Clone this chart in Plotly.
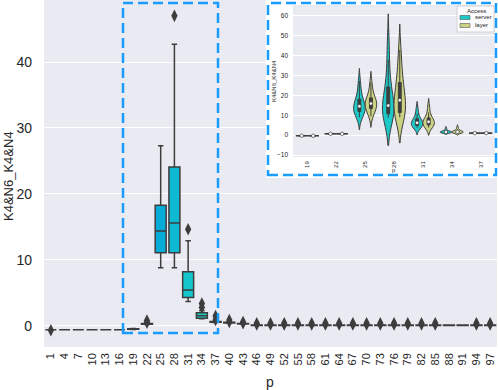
import numpy as np
import plotly.graph_objects as go

# ---------------- main box plot data ----------------
p_labels = ['1', '4', '7', '10', '13', '16', '19', '22', '25', '28', '31', '34', '37',
            '40', '43', '46', '49', '52', '55', '58', '61', '64', '67', '70', '73',
            '76', '79', '82', '85', '88', '91', '94', '97']
lower_whisker = [-0.6, -0.6, -0.6, -0.6, -0.6, -0.6, -0.55, 0.2, 8.8, 8.8, 3.7, 1.1, 0.5,
                 0.4, 0.25, 0.05, 0.05, 0.05, 0.05, 0.05, 0.05, 0.05, 0.05, 0.05, 0.05,
                 0.05, 0.05, 0.05, 0.05, 0.05, 0.05, 0.05, 0.05]
q1_vals = [-0.6, -0.6, -0.6, -0.6, -0.6, -0.6, -0.5, 0.25, 11.1, 11.1, 4.3, 1.15, 0.55,
           0.45, 0.3, 0.07, 0.07, 0.07, 0.07, 0.07, 0.07, 0.07, 0.07, 0.07, 0.07,
           0.07, 0.07, 0.07, 0.07, 0.07, 0.07, 0.07, 0.07]
median_vals = [-0.6, -0.6, -0.6, -0.6, -0.6, -0.6, -0.45, 0.3, 14.4, 15.6, 5.45, 1.55, 0.6,
               0.5, 0.33, 0.1, 0.1, 0.1, 0.1, 0.1, 0.1, 0.1, 0.1, 0.1, 0.1,
               0.1, 0.1, 0.1, 0.1, 0.1, 0.1, 0.1, 0.1]
q3_vals = [-0.6, -0.6, -0.6, -0.6, -0.6, -0.6, -0.42, 0.38, 18.3, 24.1, 8.2, 2.0, 0.68,
           0.55, 0.36, 0.12, 0.12, 0.12, 0.12, 0.12, 0.12, 0.12, 0.12, 0.12, 0.12,
           0.12, 0.12, 0.12, 0.12, 0.12, 0.12, 0.12, 0.12]
upper_whisker = [-0.6, -0.6, -0.6, -0.6, -0.6, -0.6, -0.38, 0.45, 27.3, 42.7, 12.9, 2.3, 0.75,
                 0.6, 0.4, 0.15, 0.15, 0.15, 0.15, 0.15, 0.15, 0.15, 0.15, 0.15, 0.15,
                 0.15, 0.15, 0.15, 0.15, 0.15, 0.15, 0.15, 0.15]
outlier_p = ['1', '22', '22', '28', '31', '34', '34', '37', '37', '40', '40', '43', '43',
             '46', '46', '49', '49', '52', '52', '55', '55', '58', '58', '61', '61',
             '64', '64', '67', '67', '70', '70', '73', '73', '76', '76', '79', '79',
             '82', '82', '85', '85', '94', '94', '97', '97']
outlier_y = [-0.65, 0.5, 0.8, 47.0, 14.65, 2.8, 3.4, 0.9, 1.5, 0.6, 0.9, 0.4, 0.6,
             0.2, 0.4, 0.2, 0.4, 0.2, 0.4, 0.2, 0.4, 0.2, 0.4, 0.2, 0.4,
             0.2, 0.4, 0.2, 0.4, 0.2, 0.4, 0.2, 0.4, 0.2, 0.4, 0.2, 0.4,
             0.2, 0.4, 0.2, 0.4, 0.2, 0.4, 0.2, 0.4]
box_colors = {'19': '#089CDC', '22': '#0AA6D8', '25': '#06ABD8', '28': '#0EBAD2',
              '31': '#12C6CC', '34': '#1ACBC8', '37': '#1ECDC6'}

# ---------------- inset violin data ----------------
inset_p = ['19', '22', '25', '28', '31', '34', '37']
server_vals = [
    [-0.3, -0.3, -0.3],
    [0.7, 0.7, 0.7],
    [9.0, 10.2, 11.0, 11.8, 12.5, 13.2, 13.9, 14.5, 15.2, 16.0, 17.0, 18.5, 20.5, 23.5, 27.3],
    [8.8, 9.2, 9.8, 10.5, 11.5, 12.8, 14.0, 14.9, 16.5, 19.0, 22.0, 25.0, 30.0, 38.0, 47.0],
    [3.7, 4.2, 4.6, 5.0, 5.5, 5.9, 6.2, 6.6, 7.2, 8.0, 9.0, 10.8, 13.4],
    [1.1, 1.2, 1.3, 1.4, 1.5, 1.55, 1.6, 1.7, 1.9, 2.1, 2.4, 3.5],
    [1.0, 1.0, 1.0],
]
layer_vals = [
    [-0.3, -0.3, -0.3],
    [0.7, 0.7, 0.7],
    [9.5, 11.0, 12.3, 13.2, 14.0, 14.8, 15.5, 15.9, 16.5, 17.2, 18.0, 19.0, 20.5, 23.0, 26.5],
    [9.0, 9.5, 10.0, 11.0, 12.5, 14.5, 16.5, 17.6, 19.5, 22.0, 25.0, 27.0, 31.0, 37.0, 43.0],
    [3.8, 4.3, 4.8, 5.3, 5.8, 6.3, 6.7, 7.0, 7.6, 8.4, 9.5, 11.5, 14.6],
    [1.1, 1.2, 1.3, 1.4, 1.5, 1.6, 1.7, 1.8, 2.0, 2.3, 2.9, 4.1],
    [1.0, 1.0, 1.0],
]
hue_names = ['server', 'layer']
hue_colors = ['#1CC8C8', '#CBD283']

DARK = '#3d3d3d'
FONT = 'Liberation Sans, Arial, sans-serif'
TXT = '#262626'
W, H = 498, 390

fig = go.Figure()

# ---- main boxes ----
for i, lab in enumerate(p_labels):
    fig.add_trace(go.Box(
        x=[lab], q1=[q1_vals[i]], median=[median_vals[i]], q3=[q3_vals[i]],
        lowerfence=[lower_whisker[i]], upperfence=[upper_whisker[i]],
        width=0.8, whiskerwidth=0.5, boxpoints=False,
        fillcolor=box_colors.get(lab, '#1ECDC6'),
        line=dict(color=DARK, width=1.5),
        showlegend=False, hoverinfo='skip', xaxis='x', yaxis='y'))

fig.add_trace(go.Scatter(
    x=outlier_p, y=outlier_y, mode='markers',
    marker=dict(symbol='diamond-tall', size=9, color=DARK, line=dict(width=0)),
    showlegend=False, hoverinfo='skip', xaxis='x', yaxis='y'))

# ---- white patch under the inset ----
fig.add_trace(go.Scatter(
    x=[0, 1, 1, 0, 0], y=[0, 0, 1, 1, 0], mode='lines', fill='toself',
    fillcolor='white', line=dict(width=0, color='white'),
    showlegend=False, hoverinfo='skip', xaxis='x2', yaxis='y2'))

# ---- inset violins (seaborn-like: Scott bandwidth, cut=2) ----
for h, (vals_list, name, col) in enumerate(zip([server_vals, layer_vals], hue_names, hue_colors)):
    offset = -0.2 if h == 0 else 0.2
    med_x, med_y = [], []
    for i, vals in enumerate(vals_list):
        pos = i + offset
        arr = np.asarray(vals, dtype=float)
        if np.ptp(arr) == 0:
            fig.add_trace(go.Box(
                x=[pos] * len(vals), y=vals, width=0.4, boxpoints=False,
                fillcolor=col, line=dict(color=DARK, width=1),
                showlegend=False, hoverinfo='skip', xaxis='x3', yaxis='y3'))
        else:
            bw = 1.059 * arr.std(ddof=1) * len(arr) ** (-0.2)
            fig.add_trace(go.Violin(
                x=[pos] * len(vals), y=vals, width=0.4, name=name,
                bandwidth=bw, showlegend=False,
                scalemode='width', spanmode='soft', side='both', points=False,
                fillcolor=col, opacity=1, line=dict(color=DARK, width=1),
                box=dict(visible=True, width=0.25, fillcolor=DARK,
                         line=dict(color=DARK, width=1)),
                meanline=dict(visible=False),
                hoverinfo='skip', xaxis='x3', yaxis='y3'))
        med_x.append(pos)
        med_y.append(float(np.median(arr)))
    fig.add_trace(go.Scatter(
        x=med_x, y=med_y, mode='markers',
        marker=dict(symbol='circle', size=3.5, color='white', line=dict(color=DARK, width=0.7)),
        showlegend=False, hoverinfo='skip', xaxis='x3', yaxis='y3'))

# ---- layout ----
def px_x(v):
    return v / W

def px_y(v):
    return 1 - v / H

def label(text, x, y, size, angle=0, xanchor='center'):
    return dict(text=text, x=px_x(x), y=px_y(y), xref='paper', yref='paper',
                xanchor=xanchor, yanchor='middle', textangle=angle,
                showarrow=False, font=dict(size=size, color=TXT))

BLUE = '#1A9CFF'
shapes = [
    dict(type='rect', xref='paper', yref='paper',
         x0=px_x(123), x1=px_x(218), y0=px_y(333), y1=px_y(3),
         line=dict(color=BLUE, width=2.5, dash='10px,5px'), layer='above'),
    dict(type='rect', xref='paper', yref='paper',
         x0=px_x(268), x1=px_x(496), y0=px_y(175), y1=px_y(3),
         line=dict(color=BLUE, width=2.5, dash='10px,5px'), layer='above'),
    # legend frame
    dict(type='rect', xref='paper', yref='paper',
         x0=px_x(457), x1=px_x(494), y0=px_y(32), y1=px_y(6),
         fillcolor='rgba(255,255,255,0.8)', line=dict(color='#CCCCCC', width=0.8),
         layer='above'),
]
annotations = [
    label('K4&N6_K4&N4', 9, 176, 13, angle=-90),
    label('p', 270, 382, 14),
    label('K4&N6_K4&N4', 274, 81, 6, angle=-90),
    label('p', 394, 170, 6),
    label('Access', 476, 11, 6),
]
for k, (name, col) in enumerate(zip(hue_names, hue_colors)):
    yc = 17.5 + 8 * k
    shapes.append(dict(type='rect', xref='paper', yref='paper',
                       x0=px_x(460), x1=px_x(470), y0=px_y(yc + 2), y1=px_y(yc - 2),
                       fillcolor=col, line=dict(color=DARK, width=0.5), layer='above'))
    annotations.append(label(name, 473, yc, 6, xanchor='left'))

fig.update_layout(
    width=W, height=H,
    margin=dict(l=0, r=0, t=0, b=0, autoexpand=False),
    paper_bgcolor='white', plot_bgcolor='#EAEAF2',
    font=dict(family=FONT, color=TXT),
    boxmode='overlay', violinmode='overlay', showlegend=False,
    xaxis=dict(domain=[px_x(44), px_x(497)], anchor='y', type='category',
               categoryorder='array', categoryarray=p_labels,
               range=[-0.5, len(p_labels) - 0.5],
               tickangle=-90, tickfont=dict(size=11, color=TXT),
               showgrid=False, zeroline=False, showline=False, ticks='',
               ticklabelstandoff=3, automargin=False),
    yaxis=dict(domain=[px_y(347), 1], anchor='x', range=[-3.2, 49.4],
               tickvals=[0, 10, 20, 30, 40], tickfont=dict(size=14, color=TXT),
               gridcolor='white', gridwidth=1, zeroline=False, showline=False,
               ticks='', ticklabelstandoff=11, automargin=False),
    xaxis2=dict(domain=[px_x(266), 1], anchor='y2', range=[0, 1], visible=False,
                fixedrange=True, automargin=False),
    yaxis2=dict(domain=[px_y(178), 1], anchor='x2', range=[0, 1], visible=False,
                fixedrange=True, automargin=False),
    xaxis3=dict(domain=[px_x(293), px_x(495)], anchor='y3',
                range=[-0.5, len(inset_p) - 0.5],
                tickvals=list(range(len(inset_p))), ticktext=inset_p,
                tickangle=-90, tickfont=dict(size=6, color=TXT),
                showgrid=False, zeroline=False, showline=False, ticks='',
                ticklabelstandoff=2, automargin=False),
    yaxis3=dict(domain=[px_y(157), px_y(5)], anchor='x3', range=[-11, 65.5],
                tickvals=[-10, 0, 10, 20, 30, 40, 50, 60],
                tickfont=dict(size=6.5, color=TXT),
                gridcolor='white', gridwidth=1, zeroline=False, showline=False,
                ticks='', ticklabelstandoff=4, automargin=False),
    annotations=annotations,
    shapes=shapes,
)

fig.write_html('out.html', config={'displayModeBar': False},
               post_script="document.body.style.margin='0px';")
